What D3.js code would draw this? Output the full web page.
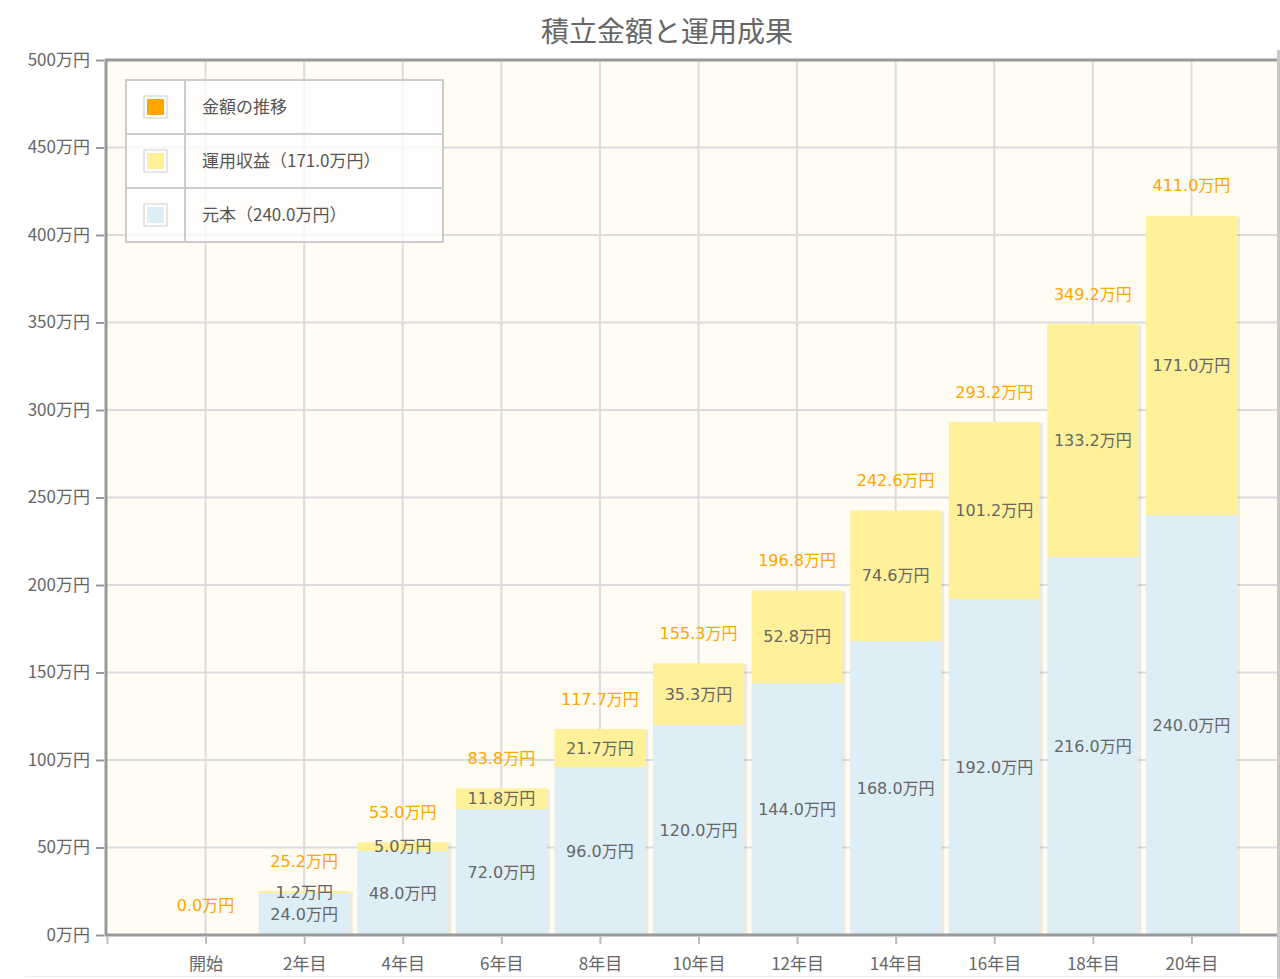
<!DOCTYPE html>
<html>
<head>
<meta charset="utf-8">
<script src="https://cdn.jsdelivr.net/npm/d3@7"></script>
<style>
  body { margin: 0; background: #fff; overflow: hidden; }
  #chart { position: relative; width: 1280px; height: 979px; }
  text { font-family: "DejaVu Sans", "Noto Sans CJK JP", sans-serif; }
</style>
</head>
<body>
<div id="chart"></div>
<script>
// categories and series
var years = ["開始","2年目","4年目","6年目","8年目","10年目","12年目","14年目","16年目","18年目","20年目"];
var principal = [0, 24.0, 48.0, 72.0, 96.0, 120.0, 144.0, 168.0, 192.0, 216.0, 240.0];
var gains = [0, 1.2, 5.0, 11.8, 21.7, 35.3, 52.8, 74.6, 101.2, 133.2, 171.0];
var totals = [0.0, 25.2, 53.0, 83.8, 117.7, 155.3, 196.8, 242.6, 293.2, 349.2, 411.0];
var yTicks = [0, 50, 100, 150, 200, 250, 300, 350, 400, 450, 500];
var legendNames = ["金額の推移", "運用収益（171.0万円）", "元本（240.0万円）"];

var colors = { total: "#ffa500", gain: "#fff199", principal: "#ddeef6" };
var fmt = function(v){ return v.toFixed(1) + "万円"; };
var cjk = "'Noto Sans CJK JP', sans-serif";

var margin = { top: 60, left: 107, right: 44, bottom: 44 };
var fullW = 1334, fullH = 979;
var plotW = fullW - margin.left - margin.right;
var plotH = 935 - margin.top;

var svg = d3.select("#chart").append("svg")
  .attr("width", 1277).attr("height", fullH);

// x: one empty slot before the first category
var x = d3.scaleLinear().domain([0, years.length + 1]).range([0, plotW]);
var y = d3.scaleLinear().domain([0, 500]).range([plotH, 0]);
var barW = 91;

svg.append("text")
  .attr("x", fullW / 2).attr("y", 42)
  .attr("text-anchor", "middle")
  .attr("fill", "#666")
  .style("font-family", cjk)
  .style("font-size", "28px")
  .text("積立金額と運用成果");

var g = svg.append("g").attr("transform", "translate(" + margin.left + "," + margin.top + ")");

g.append("rect").attr("width", plotW).attr("height", plotH).attr("fill", "#fffcf4");

// grid
g.selectAll(".hgrid").data(yTicks).enter().append("line")
  .attr("x1", 0).attr("x2", plotW)
  .attr("y1", function(d){ return y(d); }).attr("y2", function(d){ return y(d); })
  .attr("stroke", "#dcdcdc").attr("stroke-width", 2);
g.selectAll(".vgrid").data(years).enter().append("line")
  .attr("x1", function(d, i){ return x(i + 1); }).attr("x2", function(d, i){ return x(i + 1); })
  .attr("y1", 0).attr("y2", plotH)
  .attr("stroke", "#dcdcdc").attr("stroke-width", 2);

// bars
var bars = g.selectAll(".bar").data(years).enter().append("g");
bars.append("rect")
  .attr("x", function(d, i){ return x(i + 1) - barW / 2 + 2; })
  .attr("y", function(d, i){ return y(totals[i]) + 1; })
  .attr("width", barW + 1)
  .attr("height", function(d, i){ return y(0) - y(totals[i]); })
  .attr("fill", "rgba(0,0,0,0.07)");
bars.append("rect")
  .attr("x", function(d, i){ return x(i + 1) - barW / 2; })
  .attr("y", function(d, i){ return y(principal[i]); })
  .attr("width", barW)
  .attr("height", function(d, i){ return y(0) - y(principal[i]); })
  .attr("fill", colors.principal);
bars.append("rect")
  .attr("x", function(d, i){ return x(i + 1) - barW / 2; })
  .attr("y", function(d, i){ return y(totals[i]); })
  .attr("width", barW)
  .attr("height", function(d, i){ return y(principal[i]) - y(totals[i]); })
  .attr("fill", colors.gain);

// segment labels
years.forEach(function(d, i){
  if (principal[i] > 0) {
    g.append("text")
      .attr("x", x(i + 1)).attr("y", y(principal[i] / 2))
      .attr("dy", "0.35em").attr("text-anchor", "middle")
      .attr("fill", "#666").style("font-size", "16px")
      .text(fmt(principal[i]));
    g.append("text")
      .attr("x", x(i + 1)).attr("y", y(principal[i] + gains[i] / 2))
      .attr("dy", "0.35em").attr("text-anchor", "middle")
      .attr("fill", "#666").style("font-size", "16px")
      .text(fmt(gains[i]));
  }
  g.append("text")
    .attr("x", x(i + 1)).attr("y", y(totals[i]) - 30)
    .attr("dy", "0.35em").attr("text-anchor", "middle")
    .attr("fill", colors.total).style("font-size", "16px")
    .text(fmt(totals[i]));
});

// borders
g.append("line").attr("x1", 0).attr("x2", plotW).attr("y1", 0).attr("y2", 0)
  .attr("stroke", "#999").attr("stroke-width", 3);
g.append("line").attr("x1", 0).attr("x2", plotW).attr("y1", plotH).attr("y2", plotH)
  .attr("stroke", "#999").attr("stroke-width", 3);
g.append("line").attr("x1", -1).attr("x2", -1).attr("y1", -1.5).attr("y2", plotH + 1.5)
  .attr("stroke", "#999").attr("stroke-width", 3);

// y axis
var yAxis = d3.axisLeft(y).tickValues(yTicks).tickSize(8).tickPadding(6)
  .tickFormat(function(d){ return d + "万円"; });
var ya = g.append("g").attr("transform", "translate(-3,0)").call(yAxis);
ya.select(".domain").remove();
ya.selectAll("line").attr("stroke", "#999").attr("stroke-width", 2);
ya.selectAll("text").attr("fill", "#666").style("font-size", "17px")
  .style("font-family", cjk);

// x axis
var xAxis = d3.axisBottom(x).tickValues(d3.range(0, years.length + 1)).tickSize(7).tickPadding(14)
  .tickFormat(function(d){ return d === 0 ? "" : years[d - 1]; });
var xa = g.append("g").attr("transform", "translate(0," + (plotH + 2) + ")").call(xAxis);
xa.select(".domain").remove();
xa.selectAll("line").attr("stroke", "#bbb").attr("stroke-width", 2);
xa.selectAll("text").attr("fill", "#666").style("font-size", "17px")
  .style("font-family", cjk);

// legend
var lg = svg.append("g").attr("transform", "translate(126,80)");
var rowH = 54;
lg.append("rect").attr("width", 317).attr("height", rowH * 3)
  .attr("fill", "rgba(255,255,255,0.75)").attr("stroke", "#ccc").attr("stroke-width", 2);
lg.append("line").attr("x1", 59).attr("x2", 59).attr("y1", 0).attr("y2", rowH * 3)
  .attr("stroke", "#ccc").attr("stroke-width", 2);
var legendColors = [colors.total, colors.gain, colors.principal];
legendNames.forEach(function(name, i){
  if (i > 0) lg.append("line").attr("x1", 0).attr("x2", 317)
    .attr("y1", rowH * i).attr("y2", rowH * i).attr("stroke", "#ccc").attr("stroke-width", 2);
  lg.append("rect").attr("x", 18).attr("y", rowH * i + 16).attr("width", 23).attr("height", 22)
    .attr("fill", "#fff").attr("stroke", "#ccc").attr("stroke-width", 1);
  lg.append("rect").attr("x", 21).attr("y", rowH * i + 19).attr("width", 17).attr("height", 16)
    .attr("fill", legendColors[i]);
  lg.append("text").attr("x", 76).attr("y", rowH * i + rowH / 2).attr("dy", "0.35em")
    .attr("fill", "#555").style("font-size", "17px")
    .style("font-family", cjk)
    .text(name);
});

// container edge
d3.select("#chart").append("div")
  .style("position", "absolute").style("left", "1277px").style("top", "50px")
  .style("width", "3px").style("height", "929px").style("background", "#c8c8c8");
d3.select("#chart").append("div")
  .style("position", "absolute").style("left", "25px").style("top", "976px")
  .style("width", "1252px").style("height", "1px").style("background", "#eee");
</script>
</body>
</html>
